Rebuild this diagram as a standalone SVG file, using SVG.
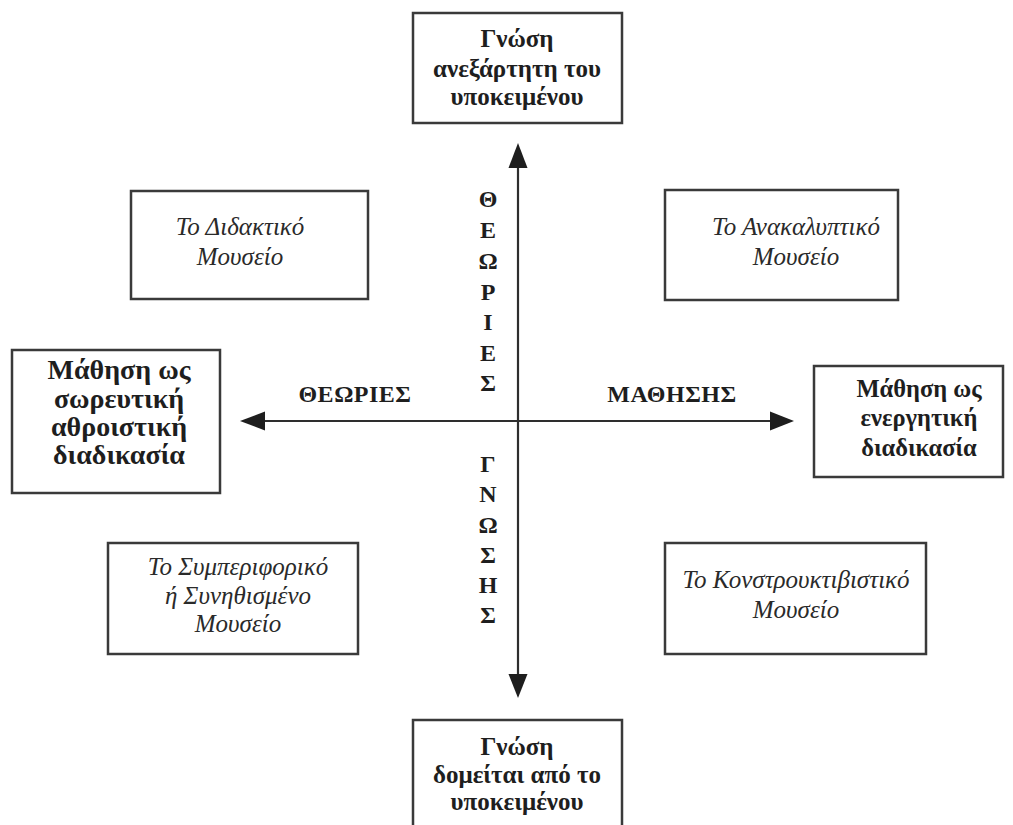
<svg xmlns="http://www.w3.org/2000/svg" width="1013" height="825" viewBox="0 0 1013 825">
<defs>
<style>
.box{fill:#fff;stroke:#3a3a3a;stroke-width:2.5}
.b{font-family:"Liberation Serif","Times New Roman",serif;font-weight:bold;font-size:25px;fill:#1e1e1e;text-anchor:middle}
.bl{font-size:28px}
.br{font-size:24.5px}
.i{font-family:"Liberation Serif","Times New Roman",serif;font-style:italic;font-size:25px;fill:#2a2a2a;text-anchor:middle}
.ax{stroke:#2e2e2e;stroke-width:2.2;fill:none}
.v{font-family:"Liberation Serif","Times New Roman",serif;font-weight:bold;font-size:24px;fill:#1e1e1e;text-anchor:middle}
.h{font-family:"Liberation Serif","Times New Roman",serif;font-weight:bold;font-size:24px;fill:#1e1e1e;text-anchor:middle}
</style>
</defs>
<rect width="1013" height="825" fill="#fff"/>

<g id="connectors">
<line class="ax" x1="518" y1="421" x2="518" y2="168"/>
<path d="M518,143 L508.5,168 L527.5,168 z" fill="#1e1e1e"/>
<line class="ax" x1="518" y1="421" x2="518" y2="674"/>
<path d="M518,698 L508.5,674 L527.5,674 z" fill="#1e1e1e"/>
<line class="ax" x1="518" y1="421" x2="265" y2="421"/>
<path d="M240,421 L265,411.5 L265,430.5 z" fill="#1e1e1e"/>
<line class="ax" x1="518" y1="421" x2="770" y2="421"/>
<path d="M794,421 L770,411.5 L770,430.5 z" fill="#1e1e1e"/>
</g>

<g id="axis-labels">
<text class="h" x="355" y="402" letter-spacing="0.5">ΘΕΩΡΙΕΣ</text>
<text class="h" x="672" y="402" letter-spacing="0.5">ΜΑΘΗΣΗΣ</text>
<g class="v">
<text x="488" y="207">Θ</text>
<text x="488" y="238">Ε</text>
<text x="488" y="269">Ω</text>
<text x="488" y="300">Ρ</text>
<text x="488" y="330">Ι</text>
<text x="488" y="361">Ε</text>
<text x="488" y="391">Σ</text>
<text x="488" y="472">Γ</text>
<text x="488" y="502">Ν</text>
<text x="488" y="533">Ω</text>
<text x="488" y="563">Σ</text>
<text x="488" y="593">Η</text>
<text x="488" y="623">Σ</text>
</g>
</g>

<g id="node-top">
<rect class="box" x="413" y="13" width="209" height="110"/>
<text class="b" x="517" y="47">Γνώση</text>
<text class="b" x="517" y="77">ανεξάρτητη του</text>
<text class="b" x="517" y="105">υποκειμένου</text>
</g>

<g id="node-bottom">
<rect class="box" x="413" y="720" width="209" height="120"/>
<text class="b" x="517" y="755">Γνώση</text>
<text class="b" x="517" y="783">δομείται από το</text>
<text class="b" x="517" y="810">υποκειμένου</text>
</g>

<g id="node-left">
<rect class="box" x="12" y="350" width="208" height="143"/>
<text class="b bl" x="119" y="379">Μάθηση ως</text>
<text class="b bl" x="119" y="408">σωρευτική</text>
<text class="b bl" x="119" y="436">αθροιστική</text>
<text class="b bl" x="119" y="464">διαδικασία</text>
</g>

<g id="node-right">
<rect class="box" x="814" y="366" width="189" height="111"/>
<text class="b br" x="919" y="397">Μάθηση ως</text>
<text class="b br" x="919" y="426">ενεργητική</text>
<text class="b br" x="919" y="456">διαδικασία</text>
</g>

<g id="node-didaktiko">
<rect class="box" x="131" y="191" width="237" height="108"/>
<text class="i" x="240" y="235">Το Διδακτικό</text>
<text class="i" x="240" y="265">Μουσείο</text>
</g>

<g id="node-anakalyptiko">
<rect class="box" x="665" y="190" width="233" height="110"/>
<text class="i" x="796" y="235">Το Ανακαλυπτικό</text>
<text class="i" x="796" y="265">Μουσείο</text>
</g>

<g id="node-symperiforiko">
<rect class="box" x="108" y="543" width="250" height="111"/>
<text class="i" x="238" y="575">Το Συμπεριφορικό</text>
<text class="i" x="238" y="604">ή Συνηθισμένο</text>
<text class="i" x="238" y="632">Μουσείο</text>
</g>

<g id="node-konstrouktivistiko">
<rect class="box" x="665" y="543" width="261" height="111"/>
<text class="i" x="796" y="588">Το Κονστρουκτιβιστικό</text>
<text class="i" x="796" y="618">Μουσείο</text>
</g>
</svg>
